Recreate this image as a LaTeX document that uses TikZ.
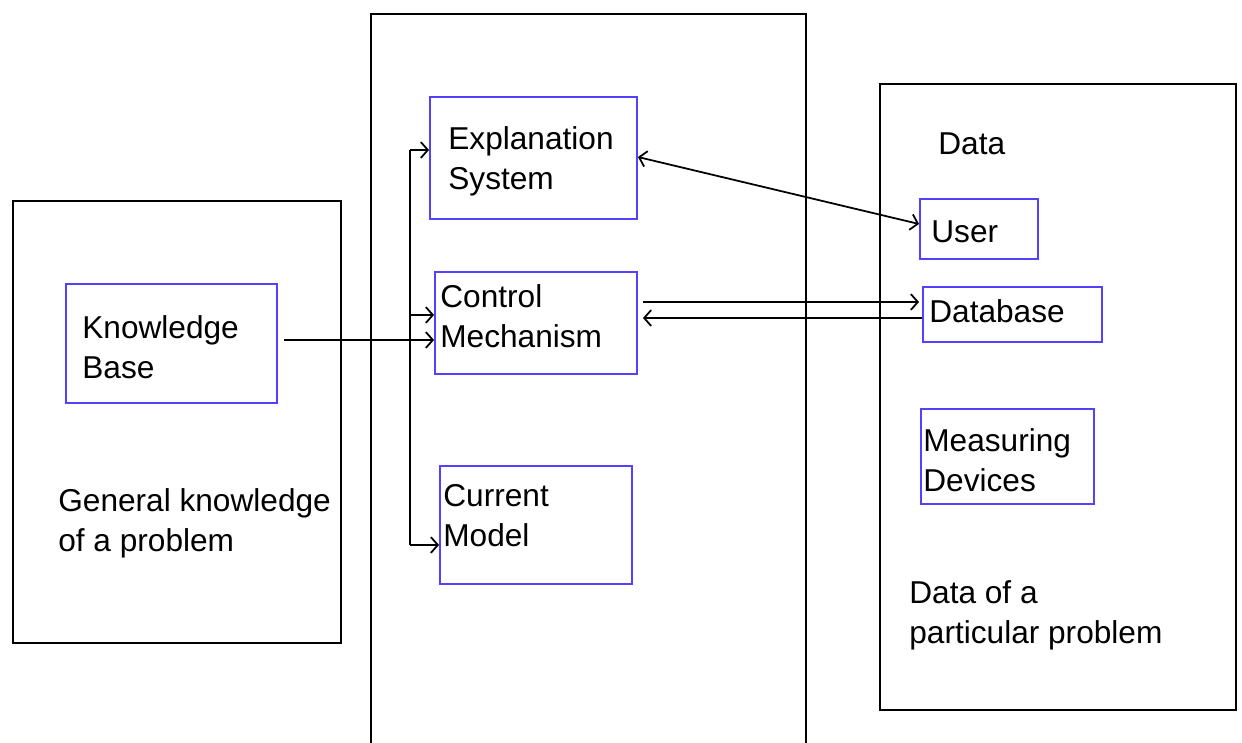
\documentclass[tikz,border=0pt]{standalone}
\usepackage{fontspec}
\setmainfont{Liberation Sans}
\usetikzlibrary{arrows.meta}
\definecolor{boxblue}{RGB}{84,64,255}

\begin{document}
\begin{tikzpicture}[x=0.02cm,y=-0.02cm,
  every node/.style={font=\fontsize{18}{22.7}\selectfont},
  outer/.style={draw=black,line width=1.1pt,rectangle,inner sep=0pt},
  part/.style={draw=boxblue,line width=1.1pt,rectangle,inner sep=0pt},
  txt/.style={anchor=west,align=left,inner sep=0pt,yshift=-0.06cm},
  >={Straight Barb[length=4pt,width=9pt]}]

\useasboundingbox (0,0) rectangle (1242,743);

% outer frames
\node[outer,minimum width=6.56cm,minimum height=8.84cm] (general) at (177,422) {};
\node[outer,minimum width=8.7cm,minimum height=14.72cm] (engine) at (588.5,382) {};
\node[outer,minimum width=7.12cm,minimum height=12.52cm] (data) at (1058,397) {};

% left one
\node[part,minimum width=4.22cm,minimum height=2.38cm] (kb) at (171.5,343.5) {};
\node[txt] (kbtext) at (82,344.5) {Knowledge\\Base};
\node[txt] (gentext) at (58,520.5) {General knowledge\\of a problem};

% middle one
\node[part,minimum width=4.14cm,minimum height=2.44cm] (expl) at (533.5,158) {};
\node[txt] (expltext) at (448,158) {Explanation\\System};

\node[part,minimum width=4.04cm,minimum height=2.04cm] (ctrl) at (536,323) {};
\node[txt] (ctrltext) at (440,313) {Control\\Mechanism};

\node[part,minimum width=3.84cm,minimum height=2.36cm] (model) at (536,525) {};
\node[txt] (modeltext) at (443,513) {Current\\Model};

% right one
\node[txt] (datatext) at (938,141) {Data};
\node[part,minimum width=2.36cm,minimum height=1.2cm] (user) at (979,229) {};
\node[txt] (usertext) at (931,229) {User};
\node[part,minimum width=3.58cm,minimum height=1.1cm] (db) at (1012.5,314.5) {};
\node[txt] (dbtext) at (929,308) {Database};
\node[part,minimum width=3.46cm,minimum height=1.9cm] (meas) at (1007.5,456.5) {};
\node[txt] (meastext) at (923,457) {Measuring\\Devices};
\node[txt] (parttext) at (909,612) {Data of a\\particular problem};

% connectors
\coordinate (bustop) at (410,150);
\coordinate (busmid) at (410,315);
\coordinate (busbot) at (410,545);
\draw[line width=1pt] (bustop) -- (busbot);
\draw[line width=1pt,->] (bustop) -- (bustop -| expl.west);
\draw[line width=1pt,->] (busmid) -- (busmid -| ctrl.west);
\draw[line width=1pt,->] (busbot) -- (busbot -| model.west);
\draw[line width=1pt,->] ([xshift=0.12cm,yshift=0.07cm]kb.east) -- ([yshift=0.07cm]kb.east -| ctrl.west);

\draw[line width=1pt,<->] ([yshift=0.02cm]expl.east) -- ([yshift=0.1cm]user.west);
\coordinate (dbout) at ([yshift=-0.07cm]db.west);
\coordinate (ctrlout) at ([xshift=0.1cm,yshift=0.42cm]ctrl.east);
\draw[line width=1pt,->] (ctrlout) -- ([xshift=-0.06cm]ctrlout -| db.west);
\draw[line width=1pt,->] (dbout) -- ([xshift=0.1cm]dbout -| ctrl.east);

\end{tikzpicture}
\end{document}
